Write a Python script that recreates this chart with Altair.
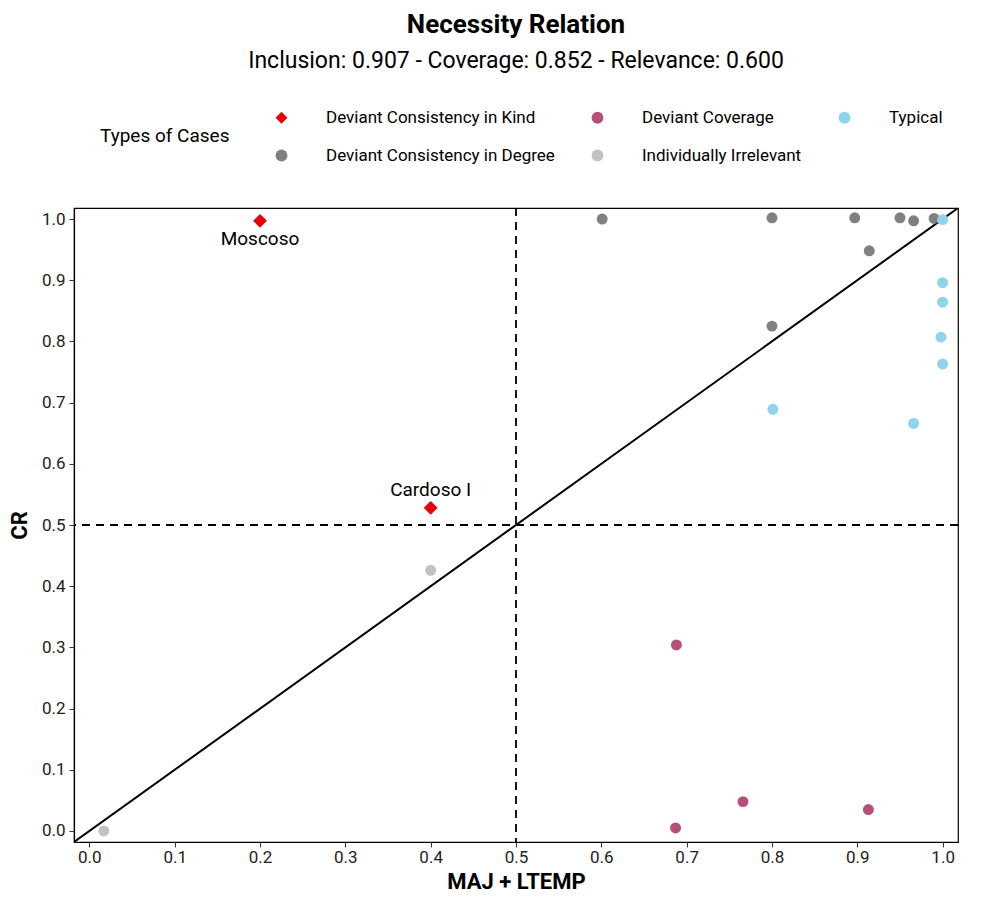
import altair as alt
import pandas as pd

FONT = "Roboto, sans-serif"

types_order = ["Deviant Consistency in Kind", "Deviant Coverage", "Typical",
               "Deviant Consistency in Degree", "Individually Irrelevant"]
type_colors = ["#e8000b", "#b5507b", "#8fd4ea", "#808080", "#c2c2c2"]
type_shapes = ["diamond", "circle", "circle", "circle", "circle"]

case_type = (["Deviant Consistency in Kind"] * 2
             + ["Deviant Consistency in Degree"] * 8
             + ["Typical"] * 7
             + ["Deviant Coverage"] * 4
             + ["Individually Irrelevant"] * 2)
case_name = (["Moscoso", "Cardoso I"] + [""] * 21)
x_vals = [0.200, 0.400,
          0.601, 0.800, 0.897, 0.950, 0.966, 0.990, 0.914, 0.800,
          1.000, 1.000, 1.000, 0.998, 1.000, 0.801, 0.966,
          0.688, 0.766, 0.913, 0.687,
          0.400, 0.017]
y_vals = [0.997, 0.528,
          1.000, 1.002, 1.002, 1.002, 0.997, 1.001, 0.948, 0.825,
          0.999, 0.896, 0.864, 0.807, 0.763, 0.689, 0.666,
          0.304, 0.048, 0.035, 0.005,
          0.426, 0.000]

label_dy = {"Moscoso": 18, "Cardoso I": -18}

diag_vals = [-0.018, 1.018]
threshold = [0.5]
ticks = [round(i * 0.1, 1) for i in range(11)]
dom = [-0.018, 1.018]

df = pd.DataFrame({"x": x_vals, "y": y_vals, "type": case_type, "name": case_name})
diag = pd.DataFrame({"x": diag_vals, "y": diag_vals})
thr = pd.DataFrame({"v": threshold})

xs = alt.Scale(domain=dom, nice=False, zero=False)
ys = alt.Scale(domain=dom, nice=False, zero=False)

xaxis = alt.Axis(values=ticks, format=".1f", title="MAJ + LTEMP", grid=False,
                 labelPadding=2, titlePadding=6)
yaxis = alt.Axis(values=ticks, format=".1f", title="CR", grid=False, titlePadding=10)

points = alt.Chart(df).mark_point(filled=True, size=120, opacity=1).encode(
    x=alt.X("x:Q", scale=xs, axis=xaxis),
    y=alt.Y("y:Q", scale=ys, axis=yaxis),
    color=alt.Color("type:N", scale=alt.Scale(domain=types_order, range=type_colors),
                    title="Types of Cases"),
    shape=alt.Shape("type:N", scale=alt.Scale(domain=types_order, range=type_shapes),
                    title="Types of Cases"),
)

diamonds = alt.Chart(df[df["type"] == types_order[0]]).mark_point(
    filled=True, size=190, opacity=1, shape="diamond", color=type_colors[0]).encode(
    x=alt.X("x:Q", scale=xs), y=alt.Y("y:Q", scale=ys))

line = alt.Chart(diag).mark_line(color="black", strokeWidth=2, clip=True).encode(
    x=alt.X("x:Q", scale=xs), y=alt.Y("y:Q", scale=ys))

vrule = alt.Chart(thr).mark_rule(color="black", strokeDash=[8, 6], strokeWidth=1.8).encode(
    x=alt.X("v:Q", scale=xs))
hrule = alt.Chart(thr).mark_rule(color="black", strokeDash=[8, 6], strokeWidth=1.8).encode(
    y=alt.Y("v:Q", scale=ys))

labels = []
for nm, dy in label_dy.items():
    labels.append(
        alt.Chart(df[df["name"] == nm]).mark_text(font=FONT, fontSize=19, dy=dy, color="black").encode(
            x=alt.X("x:Q", scale=xs), y=alt.Y("y:Q", scale=ys), text="name:N"))

chart = alt.layer(vrule, hrule, line, points, diamonds, *labels).properties(
    width=884, height=634,
    padding={"top": 4, "left": 0, "right": 0, "bottom": 0},
    title=alt.TitleParams(text="Necessity Relation",
                          subtitle="Inclusion: 0.907 - Coverage: 0.852 - Relevance: 0.600",
                          anchor="middle", frame="group", font=FONT, fontSize=26, fontWeight="bold",
                          subtitleFont=FONT, subtitleFontSize=23, subtitleColor="black",
                          subtitlePadding=12, offset=10, color="black"),
).configure_view(stroke="black", strokeWidth=1.2).configure_axis(
    labelFont=FONT, labelFontSize=17, labelColor="#222222",
    titleFont=FONT, titleFontSize=22, titleFontWeight="bold", titleColor="black",
    domainColor="black", tickColor="#333333", tickSize=5, domainWidth=1.2,
    labelPadding=4,
).configure_legend(
    orient="top", direction="horizontal", columns=3,
    titleOrient="left", titleFont=FONT, titleFontSize=19, titleFontWeight="normal",
    titleColor="black", titlePadding=43, titleAnchor="middle",
    labelFont=FONT, labelFontSize=17, labelColor="black", labelOffset=36, labelLimit=400,
    symbolSize=140, symbolStrokeWidth=0, columnPadding=34, rowPadding=20,
    offset=18, padding=26,
)

chart.save("out.html", embed_options={"renderer": "svg", "actions": False})
